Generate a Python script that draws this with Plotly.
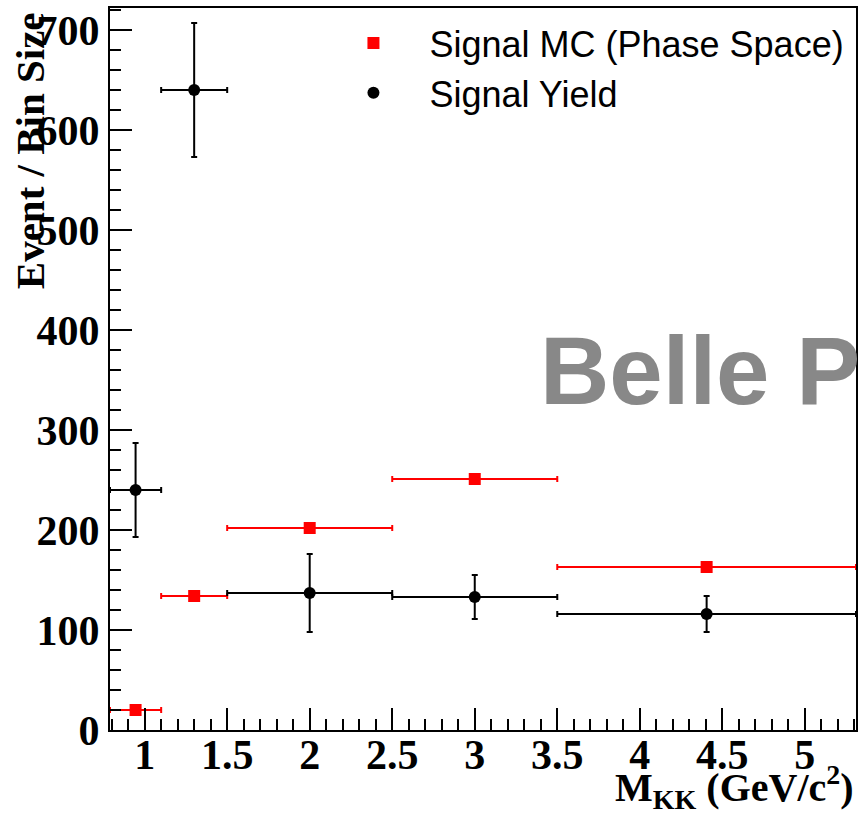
import plotly.graph_objects as go

# Bins (GeV/c^2)
bin_center = [0.945, 1.3, 2.0, 3.0, 4.405]
bin_lo = [0.79, 1.1, 1.5, 2.5, 3.5]
bin_hi = [1.1, 1.5, 2.5, 3.5, 5.31]

mc_values = [20, 134, 202, 251, 163]
yield_values = [240, 640, 137, 133, 116]
yield_errors = [47, 67, 39, 22, 18]

err_plus = [h - c for h, c in zip(bin_hi, bin_center)]
err_minus = [c - l for l, c in zip(bin_lo, bin_center)]

serif = "Liberation Serif"
sans = "Liberation Sans"

fig = go.Figure()

fig.add_trace(go.Scatter(
    x=bin_center, y=mc_values, mode="markers",
    name="Signal MC (Phase Space)", legendgroup="a",
    marker=dict(symbol="square", size=12, color="#ff0000"),
    error_x=dict(type="data", symmetric=False, array=err_plus, arrayminus=err_minus,
                 color="#ff0000", thickness=2, width=3),
    cliponaxis=True,
))

fig.add_trace(go.Scatter(
    x=bin_center, y=yield_values, mode="markers",
    name="Signal Yield", legendgroup="b",
    marker=dict(symbol="circle", size=12, color="#000000"),
    error_x=dict(type="data", symmetric=False, array=err_plus, arrayminus=err_minus,
                 color="#000000", thickness=2, width=3),
    error_y=dict(type="data", array=yield_errors, color="#000000", thickness=2, width=3),
    cliponaxis=True,
))

fig.update_layout(
    width=861, height=820,
    margin=dict(l=110, r=3, t=8, b=90),
    paper_bgcolor="white", plot_bgcolor="white",
    showlegend=True,
    hovermode=False,
    legend=dict(
        x=(318 - 110) / 748, y=(730 - 13) / 722, xanchor="left", yanchor="top",
        xref="paper", yref="paper",
        bgcolor="rgba(255,255,255,0)", borderwidth=0,
        font=dict(family=sans, size=36, color="black"),
        itemwidth=102, tracegroupgap=0,
        traceorder="grouped",
    ),
    xaxis=dict(
        range=[0.79, 5.31],
        tickmode="linear", tick0=0, dtick=0.5,
        ticks="inside", ticklen=22, tickwidth=2, tickcolor="black",
        minor=dict(dtick=0.1, ticks="inside", ticklen=11, tickwidth=2, tickcolor="black", showgrid=False),
        showline=True, linecolor="black", linewidth=2, mirror=True,
        showgrid=False, zeroline=False,
        ticklabelstandoff=-13,
        tickfont=dict(family=serif, size=42, color="black", weight="bold"),
    ),
    yaxis=dict(
        range=[0, 722],
        tickmode="linear", tick0=0, dtick=100,
        ticks="inside", ticklen=22, tickwidth=2, tickcolor="black",
        minor=dict(dtick=20, ticks="inside", ticklen=11, tickwidth=2, tickcolor="black", showgrid=False),
        showline=True, linecolor="black", linewidth=2, mirror=True,
        showgrid=False, zeroline=False,
        tickfont=dict(family=serif, size=42, color="black", weight="bold"),
    ),
)

# Axis titles
fig.add_annotation(
    text="<b>Event / Bin Size</b>", textangle=-90,
    xref="paper", yref="paper", x=(30 - 110) / 748, y=(730 - 151) / 722,
    xanchor="center", yanchor="middle", showarrow=False,
    font=dict(family=serif, size=41, color="black"),
)
fig.add_annotation(
    text="<b>M<sub>KK</sub> (GeV/c<sup>2</sup>)</b>",
    xref="paper", yref="paper", x=1.0, y=(730 - 787) / 722,
    xanchor="right", yanchor="middle", showarrow=False,
    font=dict(family=serif, size=40, color="black"),
)

# Watermark
fig.add_annotation(
    text="<b>Belle P</b>",
    xref="paper", yref="paper", x=(539 - 110) / 748, y=(730 - 370) / 722,
    xanchor="left", yanchor="middle", showarrow=False,
    font=dict(family=sans, size=96, color="#888888"),
)

fig.write_html(
    "out.html",
    config={"displayModeBar": False, "staticPlot": True},
    post_script="document.body.style.margin='0';document.body.style.overflow='hidden';",
)
